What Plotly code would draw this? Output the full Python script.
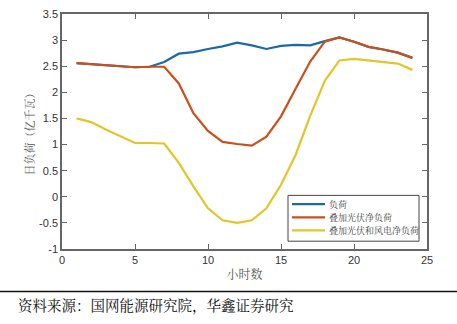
import plotly.graph_objects as go

# Hourly data (hours 1-24), unit: 亿千瓦
hours = list(range(1, 25))
load = [2.56, 2.54, 2.51, 2.49, 2.48, 2.49, 2.58, 2.74, 2.77, 2.83, 2.88, 2.95,
        2.90, 2.83, 2.89, 2.91, 2.90, 2.98, 3.05, 2.97, 2.87, 2.82, 2.76, 2.66]
net_pv = [2.56, 2.54, 2.51, 2.49, 2.48, 2.49, 2.49, 2.17, 1.60, 1.26, 1.05, 1.01,
          0.98, 1.15, 1.54, 2.07, 2.59, 2.97, 3.05, 2.97, 2.87, 2.82, 2.76, 2.66]
net_pv_wind = [1.50, 1.43, 1.29, 1.16, 1.03, 1.03, 1.02, 0.65, 0.20, -0.22, -0.45, -0.50,
               -0.45, -0.22, 0.23, 0.80, 1.55, 2.22, 2.61, 2.64, 2.61, 2.59, 2.55, 2.43]

series_names = ["负荷", "叠加光伏净负荷", "叠加光伏和风电净负荷"]
colors = ["#1b6aa3", "#c9501c", "#e3c42a"]
x_ticks = [0, 5, 10, 15, 20, 25]
y_ticks = [-1, -0.5, 0, 0.5, 1, 1.5, 2, 2.5, 3, 3.5]

cjk_font = "Noto Serif CJK SC, Noto Sans CJK SC, sans-serif"
num_font = "Liberation Sans, Arial, sans-serif"

# plot-area size in pixels, used to place the legend box and source note
PW, PH = 365, 241

fig = go.Figure()
# load drawn first so the net-load curves cover it where they coincide
for name, ys, c in zip(series_names, [load, net_pv, net_pv_wind], colors):
    fig.add_trace(go.Scatter(x=hours, y=ys, mode="lines", name=name,
                             line=dict(color=c, width=2.2), showlegend=False))

axis_common = dict(showgrid=False, zeroline=False, mirror="ticks", ticks="inside",
                   ticklen=5, tickcolor="#666", showline=True, linecolor="#666",
                   linewidth=1.5, tickfont=dict(family=num_font, size=11, color="#333"))

fig.update_layout(
    width=457, height=324,
    margin=dict(l=62, r=30, t=8, b=75),
    paper_bgcolor="white", plot_bgcolor="white",
    xaxis=dict(range=[0, 25], tickvals=x_ticks, **axis_common,
               title=dict(text="小时数", font=dict(family=cjk_font, size=12, color="#555"),
                          standoff=6)),
    yaxis=dict(range=[-1, 3.5], tickvals=y_ticks,
               ticktext=[f"{v:g}" for v in y_ticks], **axis_common,
               title=dict(text="日负荷（亿千瓦）", font=dict(family=cjk_font, size=11, color="#555"),
                          standoff=2)),
)

# legend box drawn in paper coordinates (pixel offsets from the plot area)
def px_x(p):
    return (p - 62) / PW

def px_y(p):
    return (249 - p) / PH

fig.add_shape(type="rect", xref="paper", yref="paper",
              x0=px_x(288), x1=px_x(419), y0=px_y(241), y1=px_y(194),
              line=dict(color="#444", width=1), fillcolor="white", layer="above")
for i, (name, c) in enumerate(zip(series_names, colors)):
    yy = 203 + i * 13.5
    fig.add_shape(type="line", xref="paper", yref="paper",
                  x0=px_x(292), x1=px_x(325), y0=px_y(yy), y1=px_y(yy),
                  line=dict(color=c, width=2.2), layer="above")
    fig.add_annotation(text=name, xref="paper", yref="paper", x=px_x(327), y=px_y(yy),
                       xanchor="left", yanchor="middle", showarrow=False,
                       font=dict(family=cjk_font, size=9, color="#444"))

# source note with separator line
fig.add_shape(type="line", xref="paper", yref="paper",
              x0=-62 / PW, x1=1 + 30 / PW, y0=px_y(292.5), y1=px_y(292.5),
              line=dict(color="#111", width=1.5))
fig.add_annotation(text="资料来源：国网能源研究院，华鑫证券研究", xref="paper", yref="paper",
                   x=px_x(16), y=px_y(306), xanchor="left", yanchor="middle", showarrow=False,
                   font=dict(family=cjk_font, size=14.5, color="#111"))

fig.write_html("out.html")
